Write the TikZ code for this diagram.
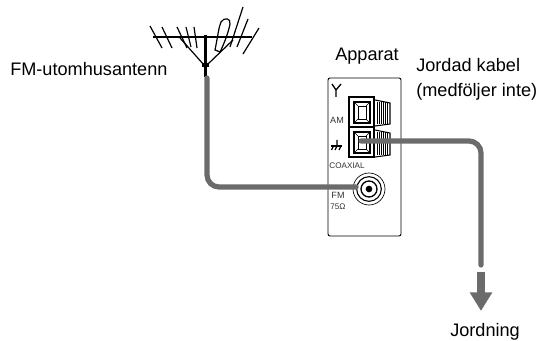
\documentclass[tikz,border=0pt]{standalone}
\usepackage{fontspec}
\setmainfont{Liberation Sans}
\usetikzlibrary{arrows.meta}
\definecolor{cablegray}{gray}{0.42}
\tikzset{
  lbl/.style={font=\fontsize{13.6}{16}\selectfont,inner sep=0pt,anchor=base west},
  tinylbl/.style={font=\fontsize{6.8}{8}\selectfont,inner sep=0pt,text=black!80},
  cable/.style={line width=3.9pt,draw=cablegray,line cap=round,rounded corners=9pt},
}
\begin{document}
\begin{tikzpicture}[x=0.75pt,y=-0.75pt]
\useasboundingbox (0,0) rectangle (541,341);
% antenna
\draw[line width=1.5pt] (153,37) -- (252,37);
\draw[line width=0.9pt] (150,26) -- (162,48);
\draw[line width=0.9pt] (162,27) -- (172,48);
\draw[line width=0.9pt] (177,27) -- (187,48);
\draw[line width=0.9pt] (186,27) -- (191,47);
\draw[line width=0.9pt] (194,27) -- (197,48);
\draw[line width=0.9pt] (243,7) -- (230,47);
\draw[line width=0.9pt] (248,19) -- (237,47);
\draw[line width=0.9pt] (259,28) -- (243,54);
\draw[line width=0.9pt] (215,50) .. controls (218,35) and (219,26) .. (221,22) .. controls (224,17) and (231,18) .. (230,24) .. controls (229,30) and (225,42) .. (220,52) -- cycle;
\draw[line width=0.9pt] (180,38) -- (204,65);
\draw[line width=0.9pt] (233,40) -- (208,64);
\draw[line width=2.6pt] (205.5,35) -- (205.5,77);
\draw[line width=3pt] (202,65) -- (209,65);
% unit
\draw[line width=0.7pt,rounded corners=1.5pt] (328,78) rectangle (401,236);
\draw[line width=1.1pt] (349,97) rectangle (374,157);
\draw[line width=1.1pt] (349,127) -- (374,127);
\draw[line width=0.8pt] (354,102) rectangle (370,123);
\draw[line width=0.6pt] (358,106) rectangle (366,119);
\draw[line width=0.8pt] (354,132) rectangle (370,153);
\draw[line width=0.6pt] (358,136) rectangle (366,149);
\foreach \ty in {102,132} {
  \draw[line width=0.4pt] (354,\ty) -- (358,\ty+4) (370,\ty) -- (366,\ty+4);
  \draw[line width=0.4pt] (354,\ty+21) -- (358,\ty+17) (370,\ty+21) -- (366,\ty+17);
}
\draw[line width=0.8pt] (375,100) -- (390,103) -- (390,124) -- (375,126);
\draw[line width=0.8pt] (375,130) -- (390,133) -- (390,155) -- (375,157);
\foreach \hx in {377,379,381,383,385,387} {
  \draw[line width=0.5pt] (\hx,102) -- (\hx,124);
  \draw[line width=0.5pt] (\hx,132) -- (\hx,155);
}
% symbols on the panel
\draw[line width=1pt] (336,97) -- (336,90) -- (332,84);
\draw[line width=1pt] (336,90) -- (341,84);
\draw[line width=0.9pt] (331,146) -- (342,146);
\draw[line width=0.9pt] (337,140) -- (337,146) (333.5,146) -- (331.5,150) (337,146) -- (335,150) (341,146) -- (339,150);
% jack
\node[circle,draw,line width=0.5pt,minimum size=24pt,inner sep=0pt] (jackouter) at (369,189) {};
\node[circle,draw,line width=0.8pt,minimum size=18.5pt,inner sep=0pt] (jackmid) at (369,189) {};
\node[circle,draw,line width=1pt,minimum size=12pt,inner sep=0pt] (jackinner) at (369,189) {};
\node[circle,fill=black,minimum size=5pt,inner sep=0pt] (jackpin) at (369,189) {};
% cables
\coordinate (mastend) at (207,78);
\coordinate (groundend) at (361,141);
\coordinate (groundfree) at (481,265);
\draw[cable] (mastend) -- (207,187) -- (jackmid.west |- 0,187);
\draw[cable] (groundend) -- (481,141) -- (groundfree);
% arrow
\coordinate (arrowtop) at (481,272);
\coordinate (arrowtip) at (481,311);
\draw[line width=6pt,draw=cablegray,-{Triangle[length=14pt,width=16pt]}] (arrowtop) -- (arrowtip);
% labels
\node[lbl] (fmlabel) at (10,76) {FM-utomhusantenn};
\node[lbl] (unitlabel) at (335,61) {Apparat};
\node[lbl] (cablelabela) at (416,72) {Jordad kabel};
\node[lbl] (cablelabelb) at (416,97) {(medföljer inte)};
\node[lbl] (groundlabel) at (450,336) {Jordning};
\node[tinylbl] (amlabel) at (337,120) {AM};
\node[tinylbl,font=\fontsize{6.1}{8}\selectfont] (coaxlabel) at (347,166) {COAXIAL};
\node[tinylbl] (fmjack) at (338,195) {FM};
\node[tinylbl,font=\fontsize{6.1}{8}\selectfont] (ohmlabel) at (338,207) {75Ω};
\end{tikzpicture}
\end{document}
